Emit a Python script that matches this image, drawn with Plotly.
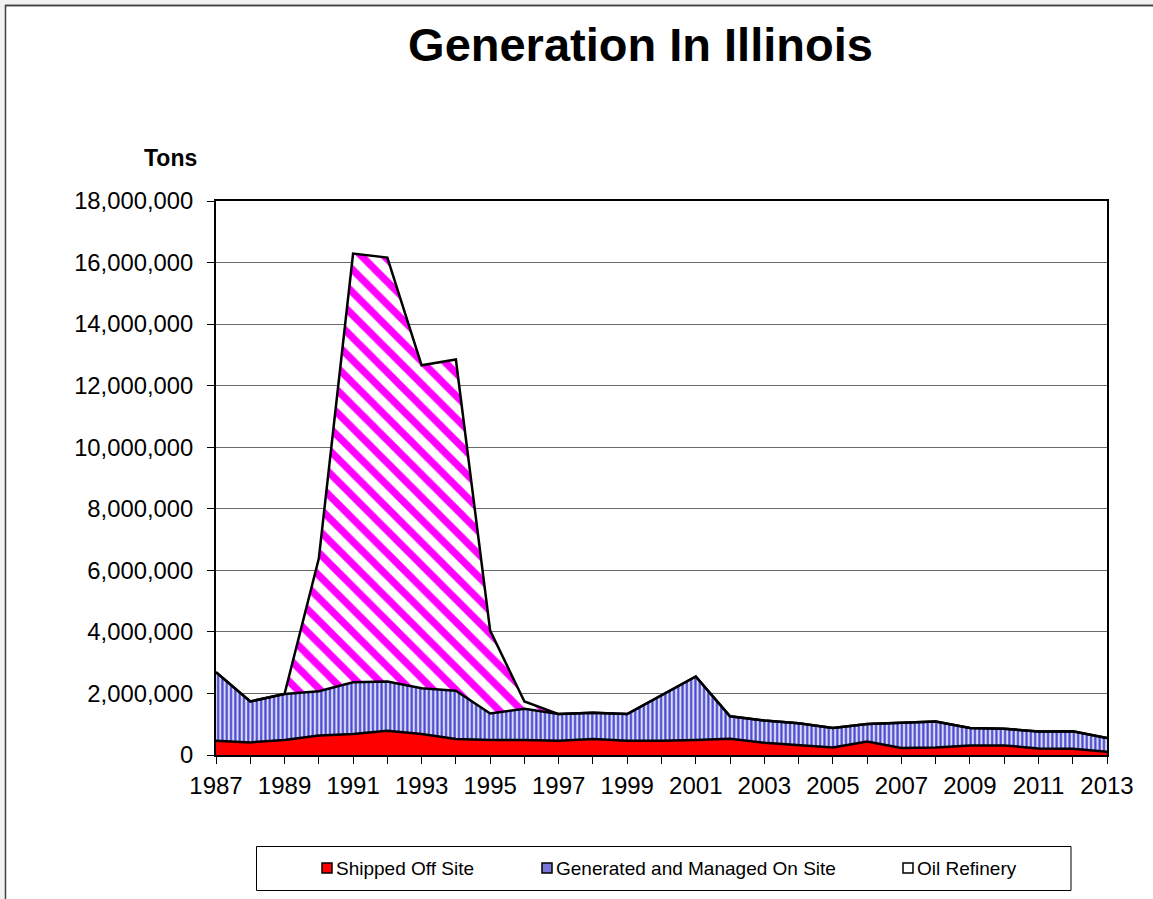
import plotly.graph_objects as go

# ---------------- data ----------------
years = list(range(1987, 2014))
shipped_off_site = [465000, 410000, 490000, 630000, 680000, 790000, 680000, 520000, 490000,
                    490000, 465000, 520000, 465000, 465000, 490000, 530000, 400000, 312000,
                    247000, 442000, 228000, 247000, 312000, 312000, 215000, 205000, 107000]
managed_on_site = [2225000, 1330000, 1490000, 1440000, 1680000, 1600000, 1490000, 1570000, 860000,
                   1010000, 865000, 850000, 865000, 1465000, 2060000, 730000, 720000, 718000,
                   633000, 568000, 832000, 843000, 568000, 543000, 545000, 565000, 443000]
oil_refinery = [0, 0, 0, 4310000, 13930000, 13770000, 10490000, 10760000, 2690000,
                240000, 0, 0, 0, 0, 0, 0, 0, 0,
                0, 0, 0, 0, 0, 0, 0, 0, 0]
series_names = ["Shipped Off Site", "Generated and Managed On Site", "Oil Refinery"]
title_text = "Generation In Illinois"
y_unit = "Tons"

FONT = "Liberation Sans, Arial, sans-serif"
W, H = 1153, 899
L, R, T, B = 216, 46, 201, 144
PW, PH = W - L - R, H - T - B


def px(x):
    return (x - L) / PW


def py(y):
    return (H - B - y) / PH


fig = go.Figure()
fig.add_trace(go.Scatter(
    x=years, y=shipped_off_site, name=series_names[0], stackgroup="one", mode="lines",
    line=dict(color="black", width=2.5), fillcolor="#ff0000", showlegend=False))
fig.add_trace(go.Scatter(
    x=years, y=managed_on_site, name=series_names[1], stackgroup="one", mode="lines",
    line=dict(color="black", width=2.5),
    fillpattern=dict(shape="|", fgcolor="#4848d0", bgcolor="#dadaf6", size=4.3, solidity=0.5,
                     fillmode="replace"),
    showlegend=False))
fig.add_trace(go.Scatter(
    x=years, y=oil_refinery, name=series_names[2], stackgroup="one", mode="lines",
    line=dict(color="black", width=2.5),
    fillpattern=dict(shape="\\", fgcolor="#ff00ff", bgcolor="#ffffff", size=16, solidity=0.45,
                     fillmode="replace"),
    showlegend=False))

shapes = [
    # outer chart frame
    dict(type="rect", xref="paper", yref="paper", x0=px(5.5), y0=py(1200), x1=px(1400), y1=py(5.5),
         line=dict(color="#404040", width=1.5), fillcolor="white", layer="below"),
    dict(type="line", xref="paper", yref="paper", x0=px(5), y0=py(5.5), x1=px(1153), y1=py(5.5),
         line=dict(color="#404040", width=1.5)),
    # legend box
    dict(type="rect", xref="paper", yref="paper", x0=px(256.5), y0=py(890.5), x1=px(1071), y1=py(846.5),
         line=dict(color="black", width=1), fillcolor="white", layer="below"),
]
legend_items = [
    (322, 334, "#ff0000"),
    (542, 554, "#7878d8"),
    (903, 915, "#ffffff"),
]
annotations = []
for (sx, tx, col), name in zip(legend_items, series_names):
    shapes.append(dict(type="rect", xref="paper", yref="paper", x0=px(sx), x1=px(sx + 10),
                       y0=py(873), y1=py(863), line=dict(color="black", width=1.5), fillcolor=col))
    annotations.append(dict(text=name, xref="paper", yref="paper", x=px(tx), y=py(868),
                            xanchor="left", yanchor="middle", showarrow=False,
                            font=dict(family=FONT, size=19, color="black")))

annotations.append(dict(text="<b>" + y_unit + "</b>", xref="paper", yref="paper", x=px(170), y=py(158),
                        xanchor="center", yanchor="middle", showarrow=False,
                        font=dict(family=FONT, size=23, color="black")))

fig.update_layout(
    width=W, height=H,
    margin=dict(l=L, r=R, t=T, b=B, autoexpand=False),
    paper_bgcolor="#f2f2f2", plot_bgcolor="white",
    title=dict(text="<b>" + title_text + "</b>", x=640.5 / W, xanchor="center", xref="container",
               y=1 - 45 / H, yanchor="middle", yref="container",
               font=dict(family=FONT, size=47, color="black")),
    font=dict(family=FONT, color="black"),
    shapes=shapes, annotations=annotations,
    showlegend=False,
)
fig.update_xaxes(
    range=[1987, 2013], tick0=1987, dtick=2, ticks="outside", ticklen=7, tickcolor="black",
    tickwidth=1, showgrid=False, showline=True, linecolor="black", linewidth=2, mirror=True,
    tickfont=dict(family=FONT, size=24, color="black"), ticklabelstandoff=1,
    minor=dict(dtick=1, tick0=1987, ticks="outside", ticklen=7, tickcolor="black", tickwidth=1,
               showgrid=False),
    zeroline=False,
)
fig.update_yaxes(
    range=[0, 18000000], dtick=2000000, tickformat=",", ticks="outside", ticklen=7,
    tickcolor="black", tickwidth=1, showgrid=True, gridcolor="#6a6a6a", gridwidth=1,
    showline=True, linecolor="black", linewidth=2, mirror=True, zeroline=False,
    tickfont=dict(family=FONT, size=23.8, color="black"), ticklabelstandoff=9,
)

fig.write_html("out.html", config={"displayModeBar": False},
               post_script="document.body.style.margin='0px';document.body.style.background='#f2f2f2';")
